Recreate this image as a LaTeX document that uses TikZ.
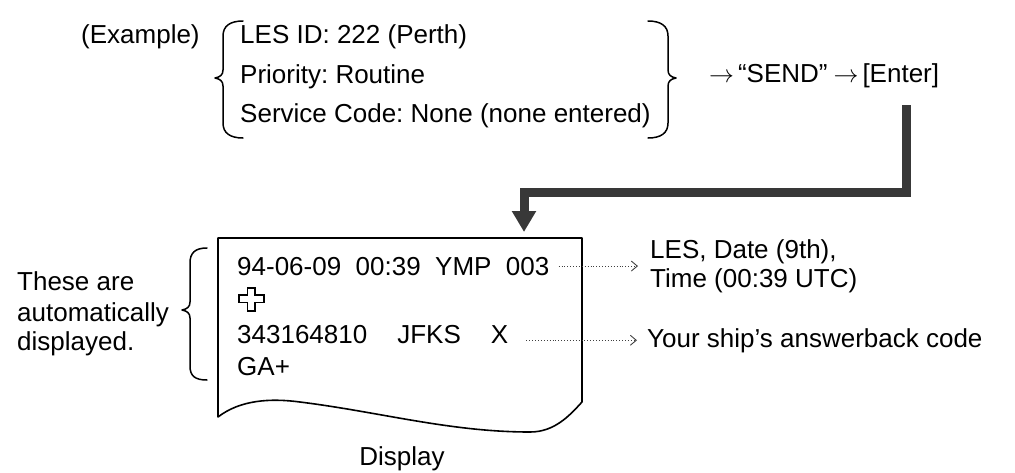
\documentclass[tikz,border=0pt]{standalone}
\usepackage{fontspec}
\setmainfont{Liberation Sans}
\usetikzlibrary{arrows.meta}
\frenchspacing
\begin{document}
\begin{tikzpicture}[x=1pt,y=-1pt,
  txt/.style={font=\fontsize{26}{30}\selectfont, inner sep=0pt, anchor=base west},
  brace/.style={line width=1.5pt, line cap=round, line join=round},
  dotarrow/.style={dotted, line width=0.9pt, black!75, -{Straight Barb[length=6pt,width=10pt,line width=0.9pt]}},
  bigarrow/.style={line width=9pt, black!78, -{Triangle[length=21pt,width=23pt]}},
  boxline/.style={line width=1.6pt, line join=round}
]
\useasboundingbox (0,0) rectangle (1015,472);

% top texts
\node[txt] (ex) at (81,43) {(Example)};
\node[txt] (l1) at (240,43) {LES ID: 222 (Perth)};
\node[txt] (l2) at (240,83) {Priority: Routine};
\node[txt] (l3) at (240,122) {Service Code: None (none entered)};
\node[txt] (send) at (709,82) {$\rightarrow$\hspace{4pt}“SEND”\hspace{6pt}$\rightarrow$\hspace{4pt}[Enter]};

% braces
\draw[brace] (243,21) .. controls (230,21) and (223,26) .. (223,36) -- (223,70)
  .. controls (223,75) and (220,77) .. (215,78) .. controls (220,79) and (223,81) .. (223,86)
  -- (223,123) .. controls (223,133) and (230,138) .. (243,138);
\draw[brace] (648,21) .. controls (661,21) and (668,26) .. (668,36) -- (668,70)
  .. controls (668,75) and (671,77) .. (676,78) .. controls (671,79) and (668,81) .. (668,86)
  -- (668,123) .. controls (668,133) and (661,138) .. (648,138);
\draw[brace] (207,248) .. controls (195,248) and (190,253) .. (190,263) -- (190,302)
  .. controls (190,307) and (187,309) .. (182,310) .. controls (187,311) and (190,313) .. (190,318)
  -- (190,366) .. controls (190,376) and (195,380) .. (207,380);

% display box
\draw[boxline] (218,417) -- (218,238) -- (582,238) -- (582,402)
  .. controls (570,415) and (555,432) .. (530,432)
  .. controls (450,432) and (380,412) .. (300,402)
  .. controls (270,398) and (240,400) .. cycle;
\coordinate (dispin) at (524,232);
\coordinate (entr) at (906,105);

% big arrow
\draw[bigarrow] (entr) -- (906,192) -- (524,192) -- (dispin);

% display contents
\node[txt] (r1) at (237,275) {94-06-09\ \ 00:39\ \ YMP\ \ 003};
\draw[line width=1.1pt, line join=miter] (247.5,288) -- (255,288) -- (255,295) -- (264,295) -- (264,302.5) -- (255,302.5) -- (255,311) -- (247.5,311) -- (247.5,302.5) -- (239,302.5) -- (239,295) -- (247.5,295) -- cycle;
\node[txt] (r3) at (237,343) {343164810\hspace{30pt}JFKS\hspace{30pt}X};
\node[txt] (r4) at (237,375) {GA+};

% left explanation
\node[txt] (t1) at (17,290) {These are};
\node[txt] (t2) at (17,321) {automatically};
\node[txt] (t3) at (17,350) {displayed.};

% right explanations
\node[txt] (c1) at (650,258) {LES, Date (9th),};
\node[txt] (c2) at (650,287) {Time (00:39 UTC)};
\node[txt] (c3) at (647,347) {Your ship’s answerback code};
\node[txt,anchor=base] (disp) at (402,465) {Display};

\draw[dotarrow] ([xshift=9pt]r1.east) -- ([xshift=-12pt]r1.east -| c1.west);
\draw[dotarrow] ([xshift=18pt]r3.east |- c3.west) -- ([xshift=-10pt]c3.west);
\end{tikzpicture}
\end{document}
